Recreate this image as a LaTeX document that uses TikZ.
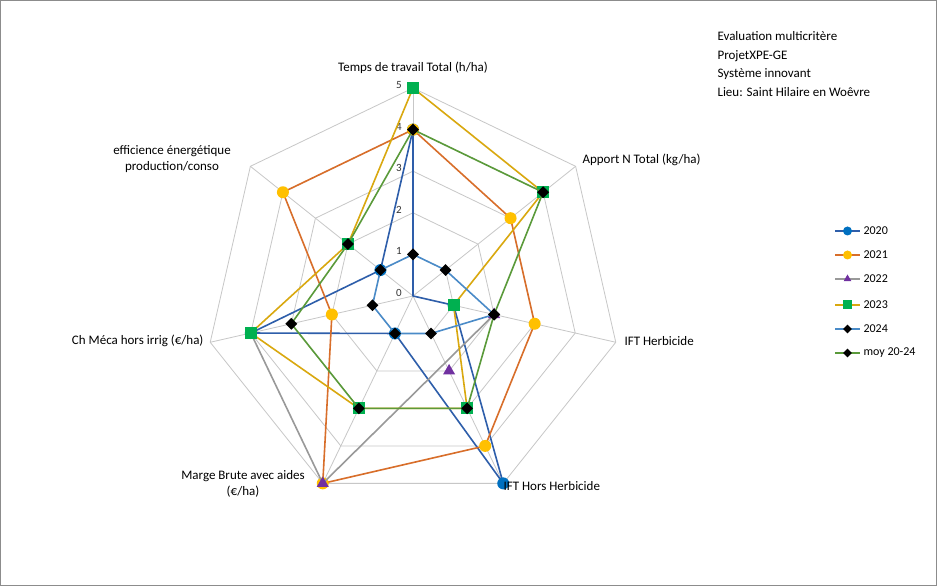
\documentclass[tikz,border=0pt]{standalone}
\usepackage{fontspec}
\setmainfont{Carlito}
\usetikzlibrary{shapes.geometric}
\definecolor{cA}{HTML}{2E5EAA}\definecolor{mA}{HTML}{0070C0}
\definecolor{cB}{HTML}{D86E2A}\definecolor{mB}{HTML}{FFC000}
\definecolor{cC}{HTML}{999999}\definecolor{mC}{HTML}{7030A0}
\definecolor{cD}{HTML}{D9A80F}\definecolor{mD}{HTML}{00B050}
\definecolor{cE}{HTML}{4A8BC8}
\definecolor{cF}{HTML}{5A9A3A}
\tikzset{
 mcirc/.style={circle,fill=#1,draw=none,minimum size=12pt,inner sep=0},
 msq/.style={rectangle,fill=#1,draw=none,minimum size=12pt,inner sep=0},
 mtri/.style={regular polygon,regular polygon sides=3,fill=#1,draw=none,minimum size=14pt,inner sep=0},
 mdia/.style={diamond,fill=black,draw=none,minimum size=12pt,inner sep=0},
 ser/.style={draw=#1,line width=1.6pt,line join=round},
 lab/.style={font=\fontsize{13}{16}\selectfont,align=center},
 tick/.style={font=\fontsize{11}{13}\selectfont,text=black!80},
 grid/.style={draw=black!22,line width=0.8pt}
}
\newcommand\defser[2]{\foreach \v [count=\i from 0] in {#2}{\coordinate (#1-\i) at ({90-\i*360/7}:{\v*41.6});}}
\begin{document}
\begin{tikzpicture}[x=1pt,y=1pt]
\fill[white] (0,0) rectangle (937,586);
\draw[black!45] (0.5,0.5) rectangle (936.5,585.5);
\begin{scope}[shift={(413,290)}]
\foreach \r in {1,...,5}{\path[grid] (90:{\r*41.6}) \foreach \i in {1,...,6}{ -- ({90-\i*360/7}:{\r*41.6})} -- cycle;}
\foreach \i in {0,...,6}{\path[grid] (0,0) -- ({90-\i*360/7}:208);}
\foreach \v in {0,...,5}{\node[tick] (t\v) at (-14,{\v*41.6+3}) {\v};}
\defser{a}{4,0,1,5,1,4,1}
\defser{b}{4,3,3,4,5,2,4}
\defser{c}{0,0,2,2,5,4,0}
\defser{d}{5,4,1,3,3,4,2}
\defser{e}{1,1,2,1,1,1,1}
\defser{f}{4,4,2,3,3,3,2}
% 2020
\path[ser=cA] (a-0)--(a-1)--(a-2)--(a-3)--(a-4)--(a-5)--(a-6)--cycle;
\foreach \i in {0,2,3,4,5,6}{\node[mcirc=mA] (ma\i) at (a-\i) {};}
% 2021
\path[ser=cB] (b-0)--(b-1)--(b-2)--(b-3)--(b-4)--(b-5)--(b-6)--cycle;
\foreach \i in {0,...,6}{\node[mcirc=mB] (mb\i) at (b-\i) {};}
% 2022
\path[ser=cC] (c-2)--(c-4)--(c-5);
\foreach \i in {2,3,4}{\node[mtri=mC] (mc\i) at (c-\i) {};}
% 2023
\path[ser=cD] (d-0)--(d-1)--(d-2)--(d-3)--(d-4)--(d-5)--(d-6)--cycle;
\foreach \i in {0,...,6}{\node[msq=mD] (md\i) at (d-\i) {};}
% 2024
\path[ser=cE] (e-0)--(e-1)--(e-2)--(e-3)--(e-4)--(e-5)--(e-6)--cycle;
\foreach \i in {0,...,6}{\node[mdia] (me\i) at (e-\i) {};}
% moy
\path[ser=cF] (f-0)--(f-1)--(f-2)--(f-3)--(f-4)--(f-5)--(f-6)--cycle;
\foreach \i in {0,...,6}{\node[mdia] (mf\i) at (f-\i) {};}
\end{scope}
% axis labels
\node[lab] (l0) at (413,518) {Temps de travail Total (h/ha)};
\node[lab,anchor=west] (l1) at (579,426) {Apport N Total (kg/ha)};
\node[lab,anchor=west] (l2) at (621,245) {IFT Herbicide};
\node[lab,anchor=west] (l3) at (500,100) {IFT Hors Herbicide};
\node[lab] (l4) at (243,102) {Marge Brute avec aides\\(€/ha)};
\node[lab,anchor=east] (l5) at (207,245) {Ch Méca hors irrig (€/ha)};
\node[lab] (l6) at (172,427) {efficience énergétique\\production/conso};
% title
\node[lab,anchor=north west,align=left,font=\fontsize{13}{18.5}\selectfont] (ttl) at (714,558) {Evaluation multicritère\\ProjetXPE-GE\\Système innovant\\Lieu: Saint Hilaire en Woêvre};
% legend
\foreach \y/\c/\m/\s/\t in {355/cA/mA/mcirc/2020,331/cB/mB/mcirc/2021,307/cC/mC/mtri/2022,281/cD/mD/msq/2023,257/cE/black/mdia/2024,233/cF/black/mdia/moy 20-24}{
 \coordinate (la\y) at (835,\y); \coordinate (lb\y) at (860,\y);
 \path[ser=\c] (la\y)--(lb\y);
 \node[\s=\m,minimum size=9pt] (lm\y) at (847.5,\y) {};
 \node[lab,anchor=west,font=\fontsize{12}{14}\selectfont] (lt\y) at (860,\y) {\t};
}
\end{tikzpicture}
\end{document}
